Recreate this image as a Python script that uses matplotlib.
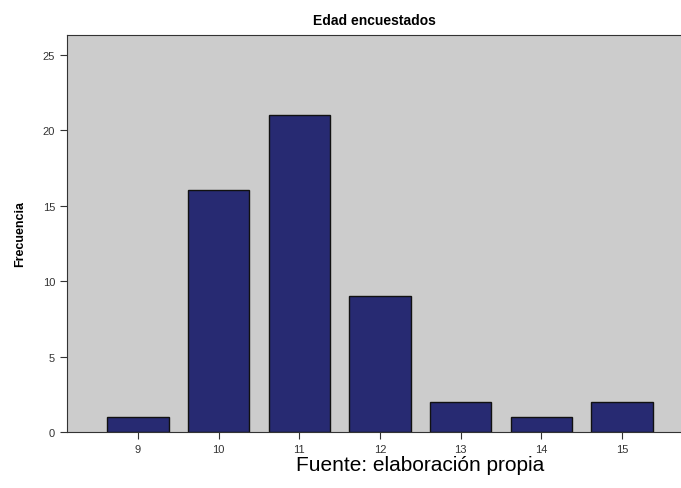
import matplotlib.pyplot as plt

plt.rcParams['font.family'] = ['Liberation Sans', 'DejaVu Sans']

edades = [9, 10, 11, 12, 13, 14, 15]
frecuencia = [1, 16, 21, 9, 2, 1, 2]
yticks = [0, 5, 10, 15, 20, 25]

fig = plt.figure(figsize=(6.81, 4.89), dpi=100)
ax = fig.add_axes([67/681, 1 - 433/489, 1 - 67/681, (433 - 36)/489])
ax.set_facecolor('#cccccc')

ax.bar(edades, frecuencia, width=0.76, color='#272a72', edgecolor='#111111', linewidth=1)

ax.set_xlim(8.12, 15.73)
ax.set_ylim(0, 26.3)
ax.set_xticks(edades)
ax.set_yticks(yticks)
ax.tick_params(labelsize=8, length=5, color='#333333', labelcolor='#333333')
ax.spines['right'].set_visible(False)
for s in ['left', 'top', 'bottom']:
    ax.spines[s].set_color('#333333')

ax.set_title('Edad encuestados', fontsize=10, fontweight='bold', pad=8)
ax.set_ylabel('Frecuencia', fontsize=9, fontweight='bold', labelpad=12)

fig.text(420/681, 1 - 466/489, 'Fuente: elaboración propia', fontsize=15,
         ha='center', va='center')

fig.savefig('out.png', dpi=100)
